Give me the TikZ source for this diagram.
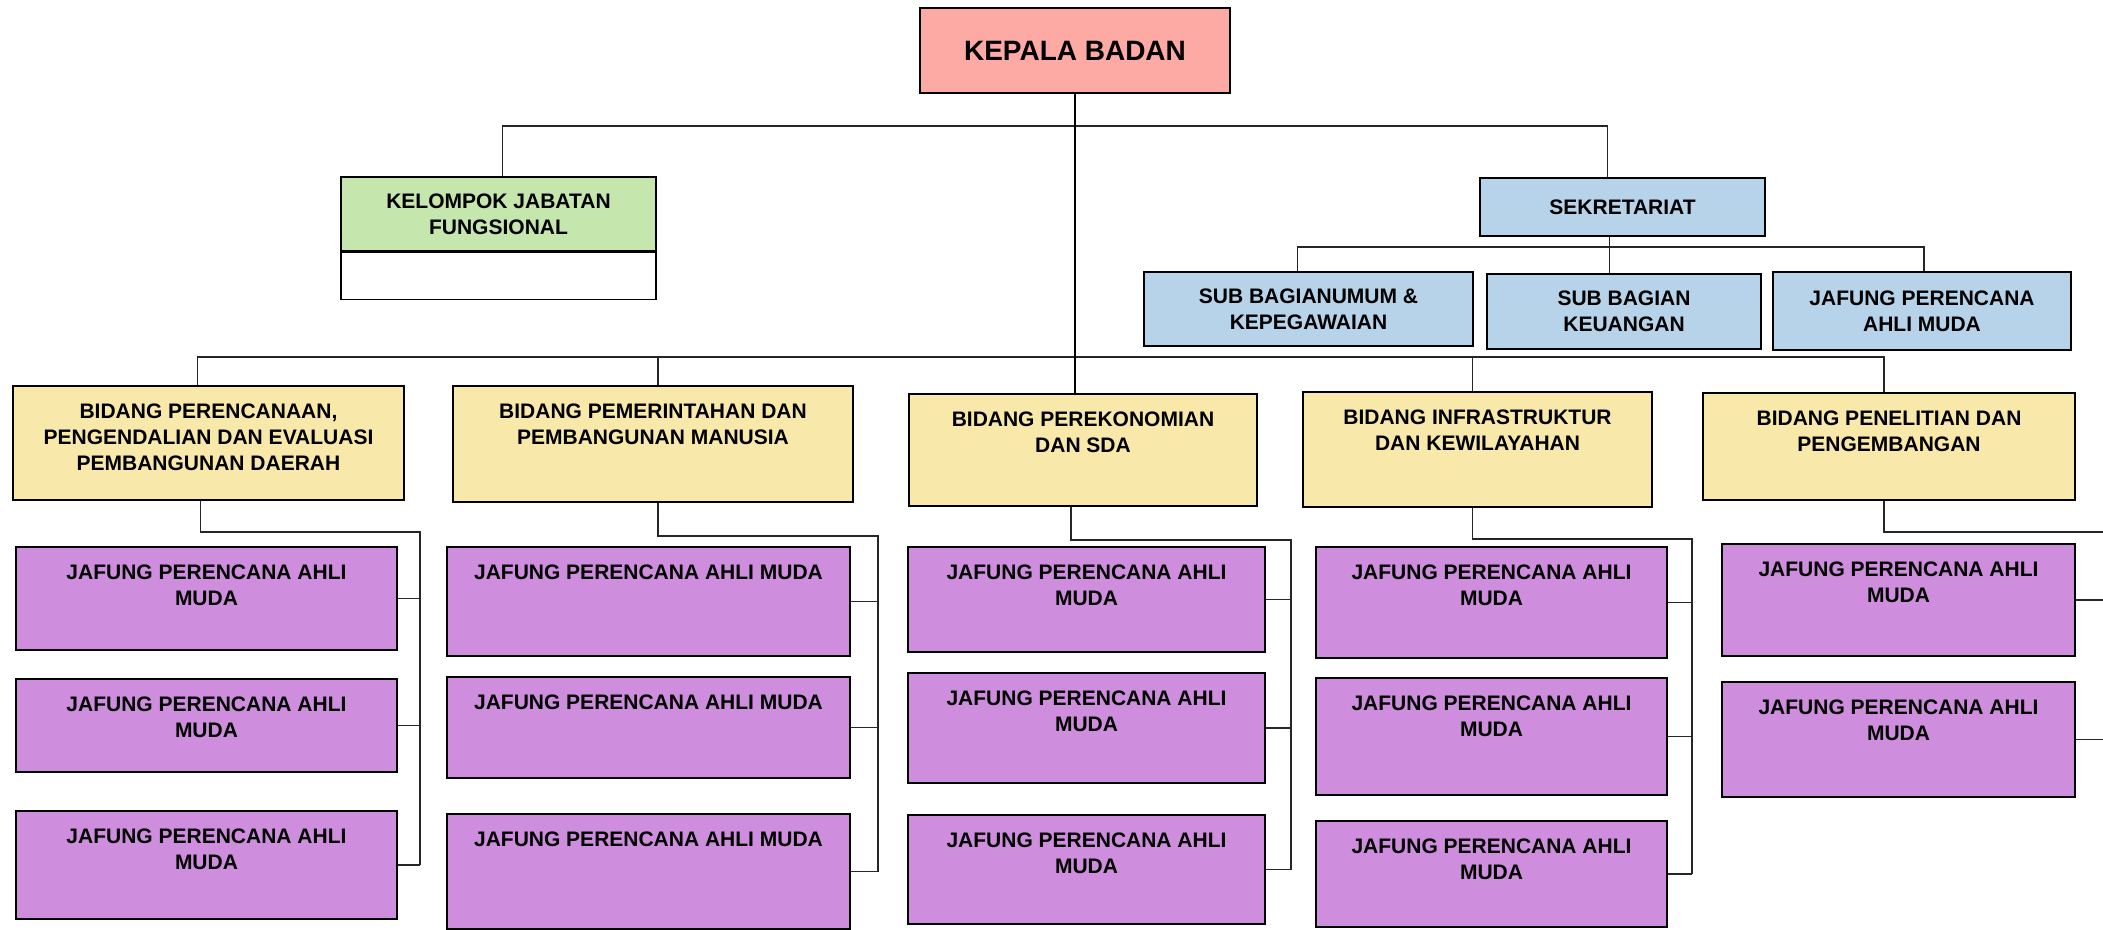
\documentclass[tikz,border=0pt]{standalone}
\usepackage{fontspec}
\setmainfont{Liberation Sans}
\usepackage{xcolor}
\definecolor{kbred}{HTML}{FDA9A4}
\definecolor{kbgreen}{HTML}{C5E6AD}
\definecolor{kbblue}{HTML}{B7D3E9}
\definecolor{kbyellow}{HTML}{F8E9AB}
\definecolor{kbpurple}{HTML}{CE8EDD}
\usepackage{tikz}
\usetikzlibrary{positioning}
\newcommand{\jafA}{JAFUNG PERENCANA AHLI\\MUDA}
\newcommand{\jafB}{JAFUNG PERENCANA AHLI MUDA}

\begin{document}
\begin{tikzpicture}[x=0.5pt,y=-0.5pt,
  font=\bfseries\fontsize{10.5}{13}\selectfont,
  box/.style={draw=black,line width=0.8pt,align=center,inner sep=2pt},
  bid/.style={box,fill=kbyellow},
  jaf/.style={box,fill=kbpurple},
  sekbox/.style={box,fill=kbblue},
  lbl/.style={align=center,inner sep=0pt},
  link/.style={draw=black!85,line width=0.6pt},
  spine/.style={draw=black,line width=1.3pt}]
\path[use as bounding box,fill=white] (0,0) rectangle (2103,930);
% kepala badan
\node[box,fill=kbred,minimum width=155pt,minimum height=42.5pt,
  font=\bfseries\fontsize{14}{17}\selectfont] (kep) at (1075,50.5) {KEPALA BADAN};
% kelompok jabatan fungsional
\node[box,fill=kbgreen,minimum width=157.5pt,minimum height=37pt] (kjf) at (498.5,214)
  {KELOMPOK JABATAN\\FUNGSIONAL};
\node[box,fill=white,minimum width=157.5pt,minimum height=23.5pt,below=0pt of kjf] (kjfb) {};
% sekretariat + sub bagian
\node[sekbox,minimum width=142.5pt,minimum height=29pt] (sek) at (1622.5,207) {SEKRETARIAT};
\node[sekbox,minimum width=164.5pt,minimum height=37pt] (sub1) at (1308.5,309)
  {SUB BAGIANUMUM \&\\KEPEGAWAIAN};
\node[sekbox,minimum width=137pt,minimum height=37.5pt] (sub2) at (1624,311.5)
  {SUB BAGIAN\\KEUANGAN};
\node[sekbox,minimum width=149pt,minimum height=39pt] (sub3) at (1922,311)
  {JAFUNG PERENCANA\\AHLI MUDA};
% bidang
\foreach \nm/\cx/\cy/\w/\h/\txt in {
  b1/208.5/443/195.5/57/{BIDANG PERENCANAAN,\\PENGENDALIAN DAN EVALUASI\\PEMBANGUNAN DAERAH},
  b2/653/444/200/58/{BIDANG PEMERINTAHAN DAN\\PEMBANGUNAN MANUSIA},
  b3/1083/450/174/56/{BIDANG PEREKONOMIAN\\DAN SDA},
  b4/1477.5/449.5/174.5/57.5/{BIDANG INFRASTRUKTUR\\DAN KEWILAYAHAN},
  b5/1889/446.5/186/53.5/{BIDANG PENELITIAN DAN\\PENGEMBANGAN}} {
  \node[bid,minimum width=\w pt,minimum height=\h pt] (\nm) at (\cx,\cy) {};
  \node[lbl,below=9pt of \nm.north] (\nm-t) {\txt};
}
% jafung perencana per bidang
\foreach \nm/\cx/\cy/\w/\h/\txt in {
  j11/206.5/598.5/190.5/51.5/\jafA, j12/206.5/725.5/190.5/46.5/\jafA,
  j13/206.5/865/190.5/54/\jafA,
  j21/648.5/601.5/201.5/54.5/\jafB, j22/648.5/727.5/201.5/50.5/\jafB,
  j23/648.5/871.5/201.5/57.5/\jafB,
  j31/1086.5/599.5/178.5/52.5/\jafA, j32/1086.5/728/178.5/55/\jafA,
  j33/1086.5/869.5/178.5/54.5/\jafA,
  j41/1491.5/602.5/175.5/55.5/\jafA, j42/1491.5/736.5/175.5/58.5/\jafA,
  j43/1491.5/874/175.5/53/\jafA,
  j51/1898.5/600/176.5/56/\jafA, j52/1898.5/739.5/176.5/57.5/\jafA} {
  \node[jaf,minimum width=\w pt,minimum height=\h pt] (\nm) at (\cx,\cy) {};
  \node[lbl,below=9pt of \nm.north] (\nm-t) {\txt};
}
% connectors
\coordinate (bar1) at (0,126);
\coordinate (bar2) at (0,247);
\coordinate (bar3) at (0,357);
\draw[link] ([xshift=2pt]kjf.north) -- ([xshift=2pt]kjf.north |- bar1)
  -- ([xshift=-7.5pt]sek.north |- bar1) -- ([xshift=-7.5pt]sek.north);
\draw[link] ([xshift=-6.5pt]sek.south) -- ([xshift=-6.5pt]sek.south |- sub2.north);
\draw[link] ([xshift=-5.5pt]sub1.north) -- ([xshift=-5.5pt]sub1.north |- bar2)
  -- ([xshift=1pt]sub3.north |- bar2) -- ([xshift=1pt]sub3.north);
\draw[link] ([xshift=-5.5pt]b1.north) -- ([xshift=-5.5pt]b1.north |- bar3)
  -- ([xshift=-2.5pt]b5.north |- bar3) -- ([xshift=-2.5pt]b5.north);
\foreach \b/\dx in {b2/2.5,b4/-2.5}
  \draw[link] ([xshift=\dx pt]\b.north |- bar3) -- ([xshift=\dx pt]\b.north);
\draw[spine] (kep.south) -- (kep.south |- b3.north);
\foreach \b/\dx/\rx/\ry/\last in {b1/-4/420/532/j13, b2/2.5/878/536/j23,
    b3/-6/1291/540/j33, b4/-2.5/1692/539/j43, b5/-2.5/2108/532/j52} {
  \coordinate (rail-\b) at (\rx,\ry);
  \draw[link] ([xshift=\dx pt]\b.south) -- ([xshift=\dx pt]\b.south |- rail-\b)
    -- (rail-\b) -- (rail-\b |- \last.east);
}
\foreach \j/\b in {j11/b1,j12/b1,j13/b1,j21/b2,j22/b2,j23/b2,j31/b3,j32/b3,j33/b3,
    j41/b4,j42/b4,j43/b4,j51/b5,j52/b5}
  \draw[link] (\j.east) -- (\j.east -| rail-\b);
\end{tikzpicture}
\end{document}
